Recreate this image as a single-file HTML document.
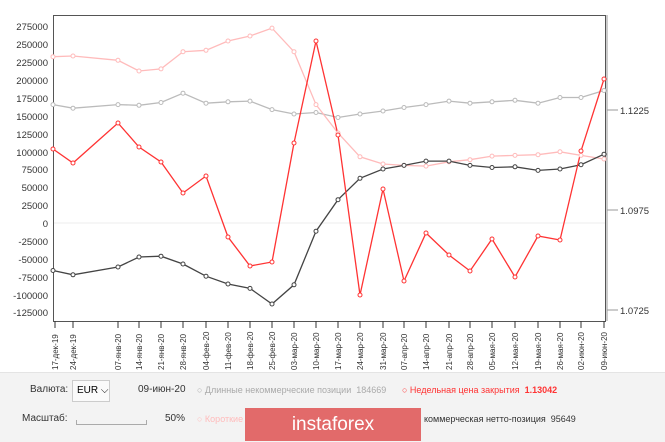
<!DOCTYPE html>
<html><head><meta charset="utf-8"><style>
body{margin:0;width:665px;height:441px;background:#fff;overflow:hidden;font-family:"Liberation Sans",sans-serif;position:relative}
.bp{position:absolute;left:0;top:372px;width:665px;height:69px;background:#f3f3f3;border-top:1px solid #e4e4e4}
.t{position:absolute;font-size:9px;color:#333;white-space:nowrap}
</style></head><body>
<svg width="665" height="372" style="position:absolute;left:0;top:0" font-family="Liberation Sans, sans-serif">
<line x1="53" y1="223" x2="605" y2="223" stroke="#eee"/>
<rect x="53.5" y="15.5" width="552" height="306" fill="none" stroke="#555"/>
<line x1="607" y1="15" x2="607" y2="321" stroke="#999"/>
<g font-size="9.5" fill="#333" text-anchor="end">
<text x="48" y="30">275000</text><text x="48" y="48">250000</text><text x="48" y="66">225000</text><text x="48" y="84">200000</text><text x="48" y="102">175000</text><text x="48" y="120">150000</text><text x="48" y="138">125000</text><text x="48" y="156">100000</text><text x="48" y="173">75000</text><text x="48" y="191">50000</text><text x="48" y="209">25000</text><text x="48" y="227">0</text><text x="48" y="245">-25000</text><text x="48" y="263">-50000</text><text x="48" y="281">-75000</text><text x="48" y="299">-100000</text><text x="48" y="316">-125000</text>
</g>
<g stroke="#999"><line x1="607" y1="110" x2="618" y2="110"/><line x1="607" y1="210" x2="618" y2="210"/><line x1="607" y1="310" x2="618" y2="310"/></g>
<g font-size="9.5" fill="#333"><text x="620" y="114">1.1225</text><text x="620" y="214">1.0975</text><text x="620" y="314">1.0725</text></g>
<g stroke="#333" id="ticks"></g>
<g fill="none" stroke-width="1.3">
<polyline id="g" stroke="#bbb" points=""/>
<polyline id="p" stroke="#fbb" points=""/>
<polyline id="k" stroke="#444" points=""/>
<polyline id="r" stroke="#f33" points=""/>
</g>
<g id="dots" fill="#fff" stroke-width="1"></g>
<g id="lbl" font-size="8" fill="#333"></g>
</svg>
<div class="bp"></div>
<div class="t" style="left:30px;top:384px;font-size:10px">Валюта:</div>
<div style="position:absolute;left:72px;top:380px;width:36px;height:20px;border:1px solid #ccc;background:#fafafa;font-size:10px;line-height:20px;text-indent:4px">EUR ⌵</div>
<div class="t" style="left:138px;top:384px;font-size:10px">09-июн-20</div>
<div class="t" style="left:197px;top:385px;color:#aaa">○ Длинные некоммерческие позиции &nbsp;184669</div>
<div class="t" style="left:402px;top:385px;color:#f33">○ Недельная цена закрытия &nbsp;<b>1.13042</b></div>
<div class="t" style="left:22px;top:413px;font-size:10px">Масштаб:</div>
<div style="position:absolute;left:76px;top:420px;width:69px;height:4px;border:1px solid #aaa;border-top:none"></div>
<div class="t" style="left:165px;top:413px;font-size:10px">50%</div>
<div class="t" style="left:197px;top:414px;color:#fbb">○ Короткие</div>
<div class="t" style="left:424px;top:414px">коммерческая нетто-позиция &nbsp;95649</div>
<div style="position:absolute;left:245px;top:408px;width:176px;height:33px;background:#e26a6a;color:#fff;font-size:19px;text-align:center;line-height:33px">instaforex</div>
<script>
var X=[53,73,118,139,161,183,206,228,250,272,294,316,338,360,383,404,426,449,470,492,515,538,560,581,604];
var G=[104.6,108.2,104.6,105.3,102.5,93.2,103.2,101.8,101.1,109.6,114,112.5,117.5,114,111,107.5,104.6,101.1,103.2,101.8,100.3,103.2,97.5,97.5,90.5];
var P=[56.7,56,60.3,71,68.9,51.7,50.3,41,36,28.1,51.7,104.6,133,156.8,164,165.4,166.1,161.8,159.7,156.1,155.4,154.7,151.8,155.4,159];
var K=[270.5,274.8,267,257,256.2,264,276.2,284,288.4,304,284.8,231.2,199.7,178.3,169,165.4,161.1,161.1,165.4,167.5,166.8,170.4,169,164.7,154.2];
var R=[149,163,123,147,162,193,176,237,266,262,143,41,135,295,189,281,233,255,271,239,277,236,240,151,79];
var L=["17-дек-19","24-дек-19","07-янв-20","14-янв-20","21-янв-20","28-янв-20","04-фев-20","11-фев-20","18-фев-20","25-фев-20","03-мар-20","10-мар-20","17-мар-20","24-мар-20","31-мар-20","07-апр-20","14-апр-20","21-апр-20","28-апр-20","05-мая-20","12-мая-20","19-мая-20","26-мая-20","02-июн-20","09-июн-20"];
var ns="http://www.w3.org/2000/svg";
function pl(id,a,c){document.getElementById(id).setAttribute("points",a.map((y,i)=>X[i]+","+y).join(" "));
a.forEach((y,i)=>{var e=document.createElementNS(ns,"circle");e.setAttribute("cx",X[i]);e.setAttribute("cy",y);e.setAttribute("r",2);e.setAttribute("stroke",c);document.getElementById("dots").appendChild(e);});}
pl("g",G,"#bbb");pl("p",P,"#fbb");pl("k",K,"#444");pl("r",R,"#f33");
X.forEach((x,i)=>{var xx=i==0?55:x;var l=document.createElementNS(ns,"line");l.setAttribute("x1",xx);l.setAttribute("x2",xx);l.setAttribute("y1",321);l.setAttribute("y2",328);document.getElementById("ticks").appendChild(l);
var t=document.createElementNS(ns,"text");t.setAttribute("transform","translate("+(xx+3)+",370) rotate(-90)");t.textContent=L[i];document.getElementById("lbl").appendChild(t);});
</script>
</body></html>
